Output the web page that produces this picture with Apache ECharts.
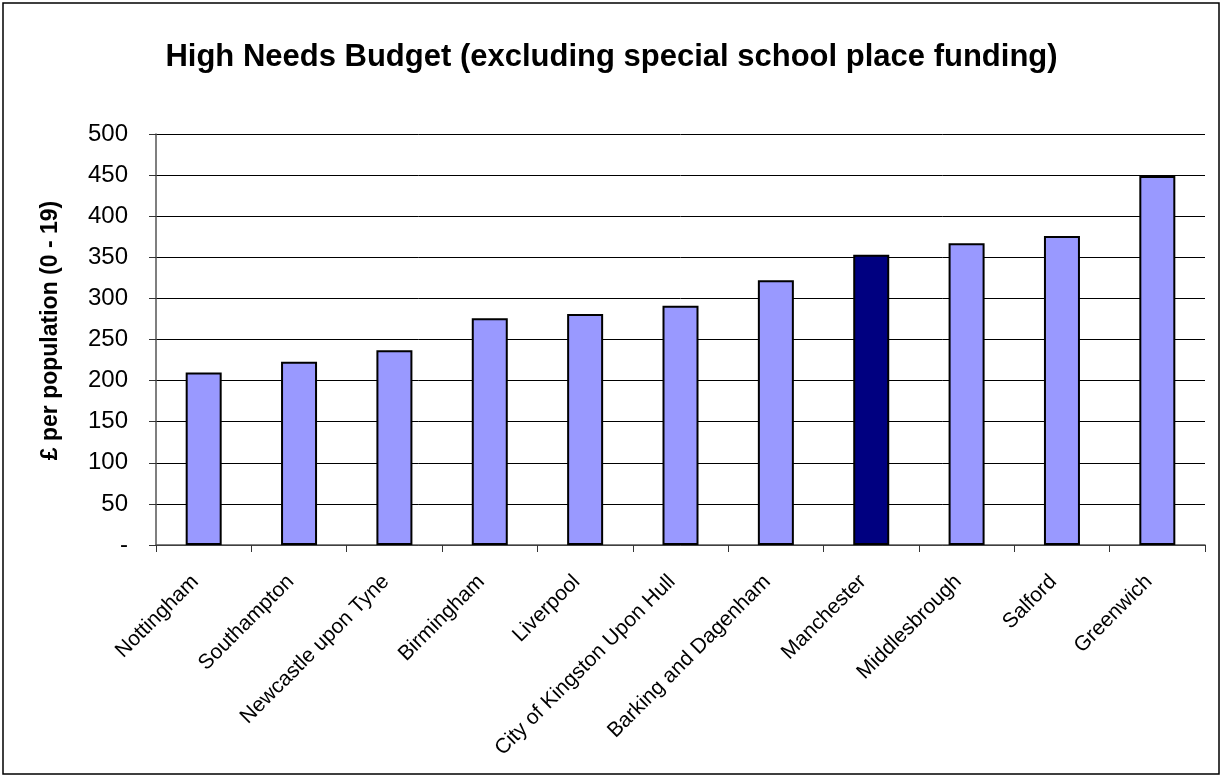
<!DOCTYPE html>
<html>
<head>
<meta charset="utf-8">
<script src="https://cdn.jsdelivr.net/npm/echarts@6/dist/echarts.min.js"></script>
<style>
  html, body { margin: 0; padding: 0; background: #fff; }
  #chart { width: 1223px; height: 778px; }
</style>
</head>
<body>
<div id="chart"></div>
<script>
// Local authorities, ordered by budget per head
const categories = [
  'Nottingham', 'Southampton', 'Newcastle upon Tyne', 'Birmingham', 'Liverpool',
  'City of Kingston Upon Hull', 'Barking and Dagenham', 'Manchester',
  'Middlesbrough', 'Salford', 'Greenwich'
];
// £ per population aged 0-19
const values = [210, 223, 237, 276, 281, 291, 322, 353, 367, 376, 449];
// The authority picked out in dark blue
const highlight = 'Manchester';
const yTicks = { min: 0, max: 500, interval: 50 };

const FONT = '"Liberation Sans", Arial, sans-serif';

const chart = echarts.init(document.getElementById('chart'));
chart.setOption({
  backgroundColor: '#fff',
  animation: false,
  title: {
    text: 'High Needs Budget (excluding special school place funding)',
    left: 'center',
    top: 37,
    textStyle: { fontFamily: FONT, fontSize: 31, fontWeight: 'bold', color: '#000' }
  },
  graphic: [{
    type: 'rect',
    shape: { x: 3, y: 3, width: 1216, height: 771 },
    style: { fill: 'none', stroke: '#000', lineWidth: 1.5 },
    silent: true
  }],
  grid: { left: 156, right: 18, top: 134, bottom: 233 },
  xAxis: {
    type: 'category',
    data: categories,
    boundaryGap: true,
    axisLine: { lineStyle: { color: '#555', width: 1.5 } },
    axisTick: { show: true, length: 7, lineStyle: { color: '#333' }, alignWithLabel: false },
    axisLabel: {
      rotate: 45, interval: 0, margin: 25,
      padding: [0, 12, 0, 0],
      fontFamily: FONT, fontSize: 21, color: '#000'
    }
  },
  yAxis: {
    type: 'value',
    min: yTicks.min, max: yTicks.max, interval: yTicks.interval,
    name: '£ per population (0 - 19)',
    nameLocation: 'middle',
    nameGap: 94,
    nameTextStyle: {
      fontFamily: FONT, fontSize: 23, fontWeight: 'bold', color: '#000',
      padding: [0, 0, 0, 18]
    },
    axisLine: { show: true, lineStyle: { color: '#555', width: 1.5 } },
    axisTick: { show: true, length: 7, lineStyle: { color: '#333' } },
    axisLabel: {
      margin: 28,
      fontFamily: FONT, fontSize: 24, color: '#000',
      formatter: v => (v === 0 ? '-' : String(v))
    },
    splitLine: { show: true, lineStyle: { color: '#000', width: 1 } }
  },
  series: [{
    type: 'bar',
    data: values.map((v, i) => ({
      value: v,
      itemStyle: { color: categories[i] === highlight ? '#000080' : '#9999FF' }
    })),
    barWidth: 36,
    itemStyle: { borderColor: '#000', borderWidth: 2 }
  }]
});
</script>
</body>
</html>
